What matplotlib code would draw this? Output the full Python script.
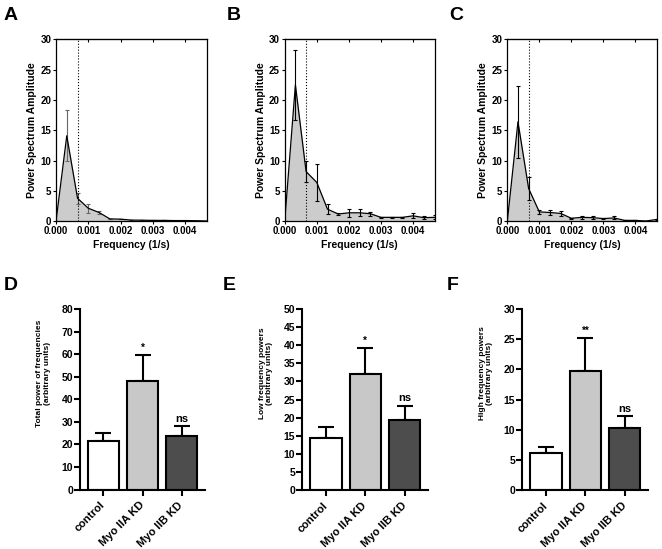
import matplotlib
matplotlib.use('Agg')
import matplotlib.pyplot as plt
import numpy as np

plt.rcParams['font.family'] = ['Liberation Sans', 'DejaVu Sans']
plt.rcParams['font.weight'] = 'bold'

# --- power spectra (A, B, C) ---
freq = np.arange(15) / 3000.0          # 1/s
cutoff = 2 / 3000.0                    # dotted line, low/high split

spec_a = [0, 14.1, 3.8, 2.15, 1.45, 0.4, 0.35, 0.2, 0.18, 0.15, 0.15, 0.12, 0.12, 0.1, 0.05]
err_a = [0, 4.2, 0.9, 0.7, 0.3, 0, 0, 0, 0, 0, 0, 0, 0, 0, 0]

spec_b = [0, 22.5, 8.2, 6.4, 2.0, 1.2, 1.4, 1.4, 1.25, 0.65, 0.65, 0.65, 0.9, 0.6, 0.65]
err_b = [0, 5.8, 1.7, 3.1, 0.8, 0.2, 0.65, 0.55, 0.35, 0.1, 0.1, 0.1, 0.4, 0.25, 0.35]

spec_c = [0, 16.4, 5.4, 1.55, 1.45, 1.3, 0.5, 0.65, 0.6, 0.45, 0.55, 0.15, 0.15, 0.05, 0.3]
err_c = [0, 5.9, 1.9, 0.35, 0.45, 0.4, 0.1, 0.25, 0.25, 0.1, 0.25, 0.05, 0.05, 0, 0.05]

# --- summary bars (D, E, F) ---
groups = ['control', 'Myo IIA KD', 'Myo IIB KD']
total_power = [21.5, 48.0, 23.5]
total_err = [3.5, 11.5, 4.7]
low_power = [14.5, 32.0, 19.2]
low_err = [3.0, 7.2, 4.1]
high_power = [6.2, 19.7, 10.3]
high_err = [0.9, 5.5, 1.9]
signif_total = ['', '*', 'ns']
signif_low = ['', '*', 'ns']
signif_high = ['', '**', 'ns']

bar_colors = ['white', '#c8c8c8', '#4d4d4d']

W, H = 662, 549
fig = plt.figure(figsize=(W / 100, H / 100), dpi=100)


def px_axes(left, right, top, bottom):
    return fig.add_axes([left / W, 1 - bottom / H, (right - left) / W, (bottom - top) / H])


def spectrum_panel(ax, y, err, err_color):
    ax.fill_between(freq, y, color='#cccccc', lw=0)
    ax.errorbar(freq, y, yerr=err, color='black', ecolor=err_color, lw=0.9,
                elinewidth=0.8, capsize=1.6, capthick=0.8)
    ax.axvline(cutoff, ls=':', color='black', lw=0.8)
    ax.set_xlim(0, freq[-1])
    ax.set_ylim(0, 30)
    ax.set_yticks(np.arange(0, 31, 5))
    ax.set_xticks([0, 0.001, 0.002, 0.003, 0.004])
    ax.set_xticklabels(['0.000', '0.001', '0.002', '0.003', '0.004'])
    ax.tick_params(labelsize=7, length=2.5, width=0.8, pad=1)
    for s in ax.spines.values():
        s.set_linewidth(0.9)
    top = ax.secondary_xaxis('top')
    top.set_xticks([0.001, 0.002, 0.003, 0.004])
    top.tick_params(direction='in', length=2.5, width=0.8, labeltop=False)
    ax.set_xlabel('Frequency (1/s)', fontsize=7.5, fontweight='bold', labelpad=3)
    ax.set_ylabel('Power Spectrum Amplitude', fontsize=7.5, fontweight='bold', va='center')
    ax.yaxis.set_label_coords(-0.16, 0.5)


def bar_panel(ax, vals, errs, signif, ymax, step, ylabel):
    x = np.arange(len(groups))
    ax.bar(x, vals, width=0.8, color=bar_colors, edgecolor='black', linewidth=1.5, zorder=2)
    ax.errorbar(x, vals, yerr=[[0] * len(errs), errs], fmt='none', ecolor='black',
                elinewidth=1.5, capsize=6, capthick=1.5, zorder=1)
    for xi, v, e, s in zip(x, vals, errs, signif):
        if s:
            ax.text(xi, v + e + ymax * 0.012, s, ha='center', va='bottom',
                    fontsize=8 if s == 'ns' else 7, fontweight='bold')
    ax.set_xlim(-0.6, 2.6)
    ax.set_ylim(0, ymax)
    ax.set_yticks(np.arange(0, ymax + 0.1, step))
    ax.set_xticks(x)
    ax.set_xticklabels(groups, rotation=45, ha='right', va='center', rotation_mode='anchor')
    ax.spines['top'].set_visible(False)
    ax.spines['right'].set_visible(False)
    ax.spines['left'].set_linewidth(1.5)
    ax.spines['bottom'].set_linewidth(1.5)
    ax.tick_params(axis='y', labelsize=7.5, length=4, width=1.5, pad=1)
    ax.tick_params(axis='x', labelsize=8, length=4, width=1.5, pad=6)
    ax.set_ylabel(ylabel, fontsize=6, fontweight='bold', va='center', linespacing=1.1)
    ax.yaxis.set_label_coords(-0.29, 0.645)


ax_a = px_axes(56, 206.7, 39.3, 221.3)
spectrum_panel(ax_a, spec_a, err_a, '#666666')
ax_b = px_axes(284.7, 434.5, 39.3, 221.3)
spectrum_panel(ax_b, spec_b, err_b, 'black')
ax_c = px_axes(507.3, 656.7, 39.3, 221.3)
spectrum_panel(ax_c, spec_c, err_c, 'black')

ax_d = px_axes(80, 205, 309, 489.5)
bar_panel(ax_d, total_power, total_err, signif_total, 80, 10,
          'Total power of frequencies\n(arbitrary units)')
ax_e = px_axes(302.3, 428.3, 309, 490)
bar_panel(ax_e, low_power, low_err, signif_low, 50, 5,
          'Low frequency powers\n(arbitrary units)')
ax_f = px_axes(522.3, 648.3, 309, 490)
bar_panel(ax_f, high_power, high_err, signif_high, 30, 5,
          'High frequency powers\n(arbitrary units)')

for letter, x, y in [('A', 4, 7), ('B', 227, 7), ('C', 449, 7),
                     ('D', 4, 277), ('E', 223, 277), ('F', 447, 277)]:
    fig.text(x / W, 1 - y / H, letter, fontsize=14, fontweight='bold', ha='left', va='top')

fig.savefig('out.png', dpi=100)
